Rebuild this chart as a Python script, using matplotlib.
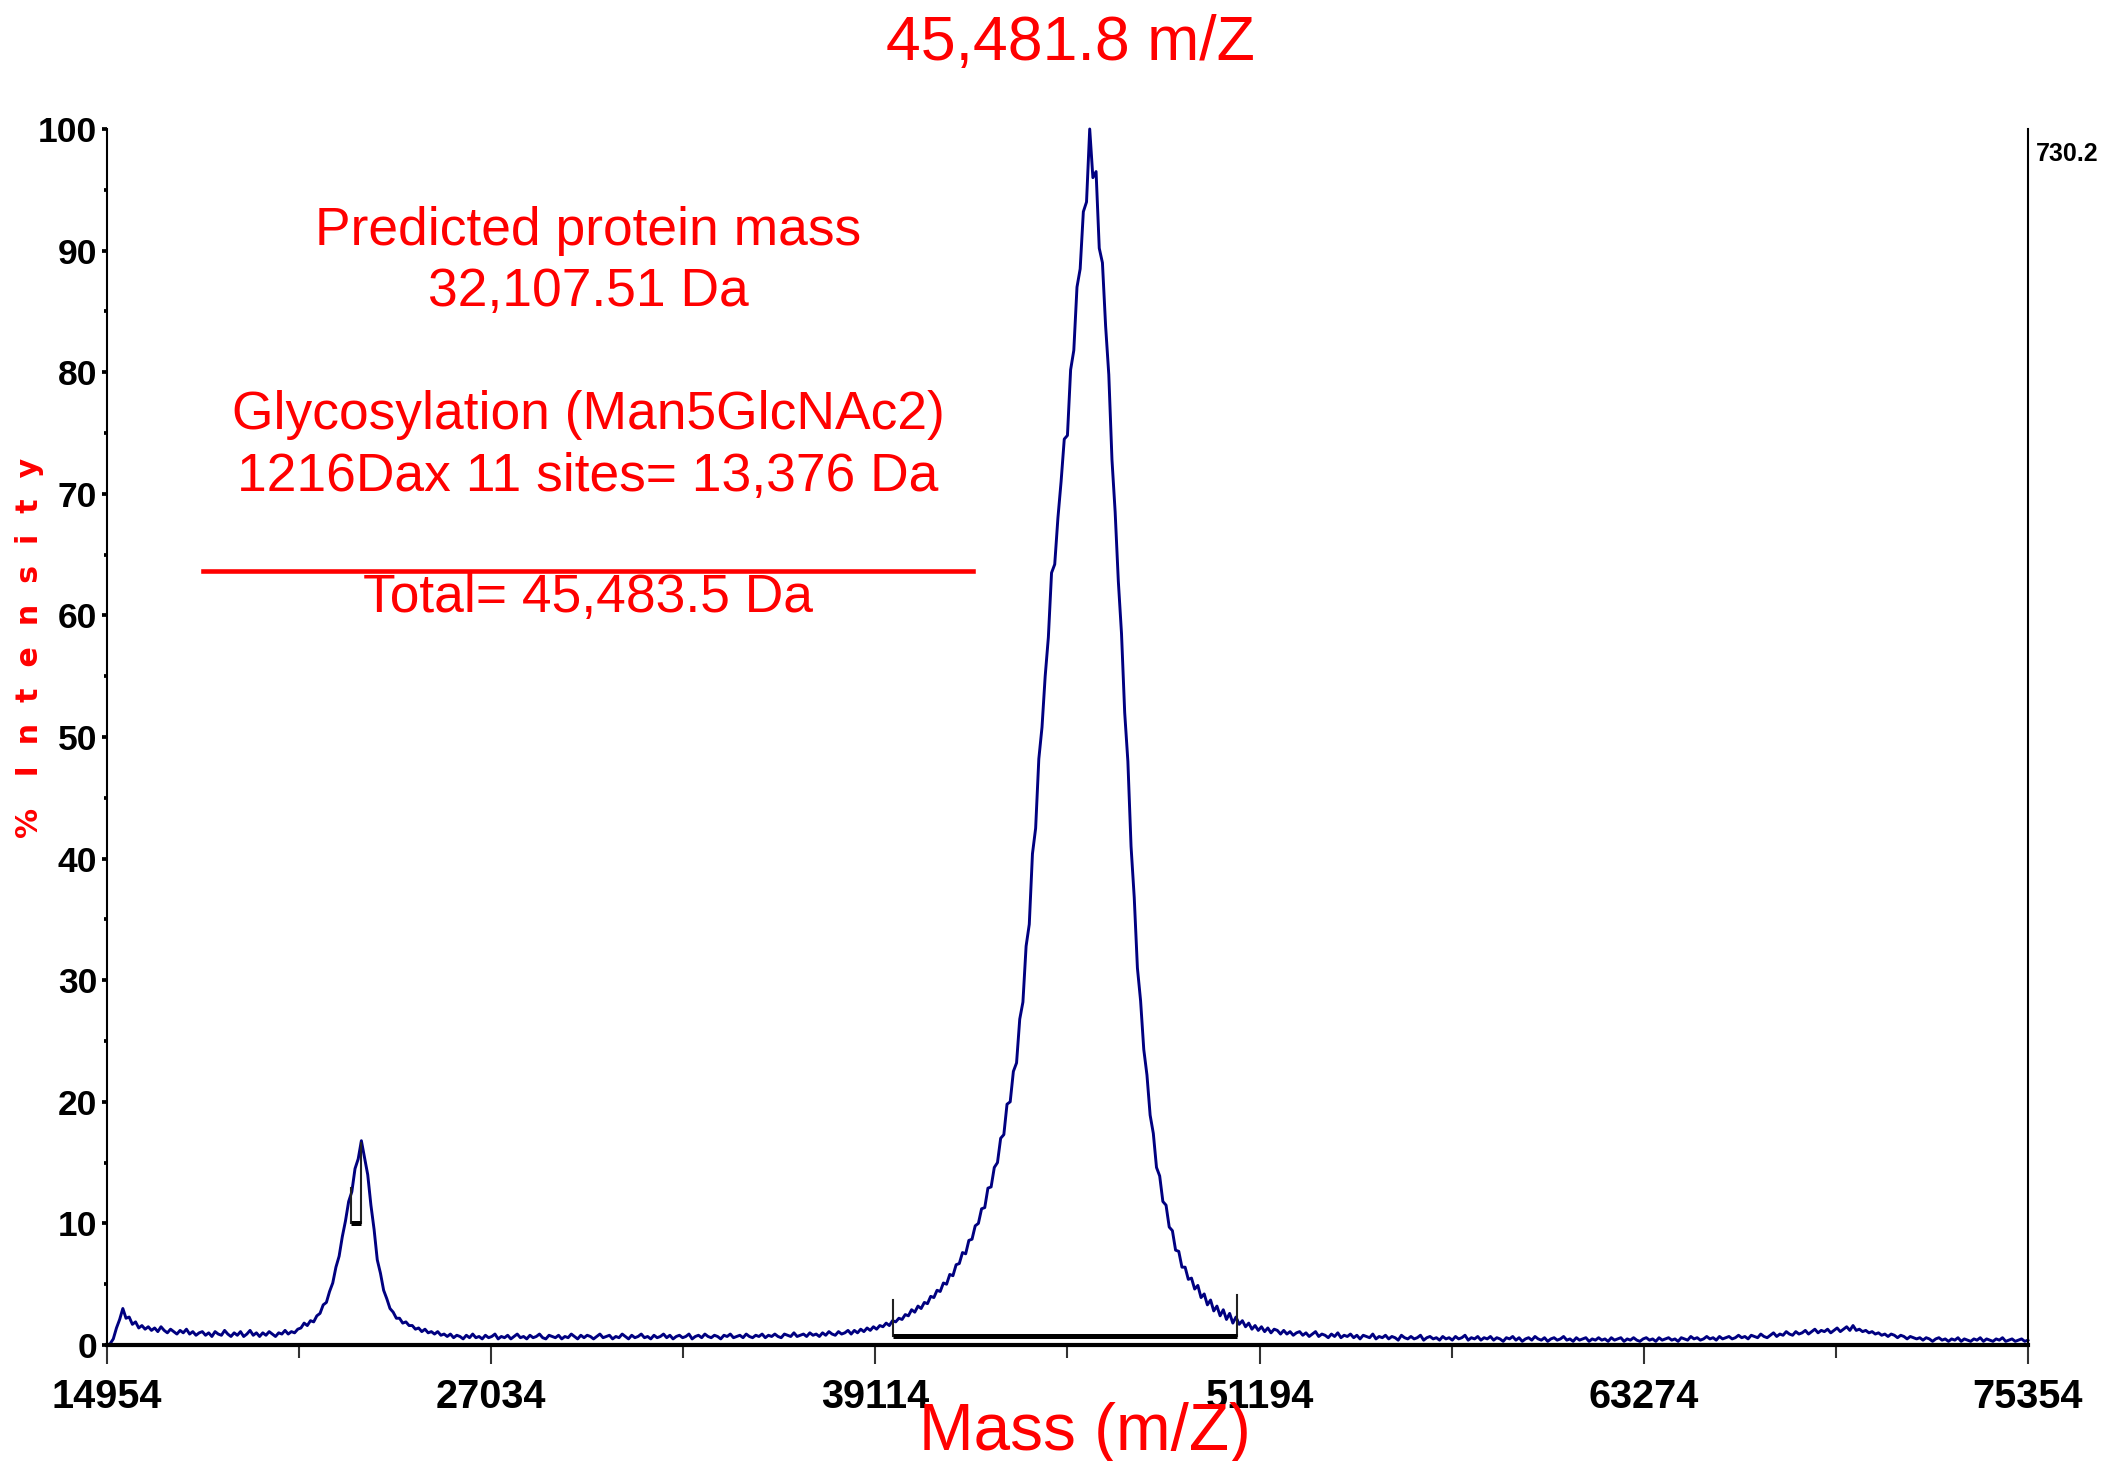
import matplotlib
matplotlib.use('Agg')
from matplotlib import pyplot as plt
from matplotlib.lines import Line2D
import numpy as np

MASS_START = 14954
MASS_STEP = 100
intensity = [
    0.0, 0.1, 0.5, 1.4, 2.1, 3.0, 2.2, 2.3, 1.7, 1.9,
    1.4, 1.6, 1.3, 1.5, 1.2, 1.4, 1.1, 1.5, 1.2, 1.0,
    1.3, 1.1, 0.9, 1.2, 1.0, 1.3, 0.9, 1.1, 0.8, 1.0,
    1.1, 0.8, 1.0, 0.7, 1.1, 0.9, 0.8, 1.2, 0.9, 0.7,
    1.0, 0.8, 1.1, 0.7, 0.9, 1.2, 0.8, 1.0, 0.7, 1.0,
    0.8, 1.1, 0.9, 0.7, 1.0, 0.9, 1.2, 0.9, 1.1, 1.0,
    1.3, 1.4, 1.8, 1.6, 2.0, 1.9, 2.4, 2.6, 3.3, 3.5,
    4.4, 5.1, 6.4, 7.3, 8.9, 10.2, 11.8, 12.6, 14.5, 15.3,
    16.8, 15.4, 14.0, 11.5, 9.5, 7.0, 5.9, 4.5, 3.8, 3.0,
    2.7, 2.2, 2.2, 1.8, 1.9, 1.6, 1.6, 1.3, 1.4, 1.1,
    1.3, 1.0, 1.1, 0.9, 1.1, 0.8, 0.9, 0.7, 0.9, 0.6,
    0.8, 0.7, 0.5, 0.8, 0.6, 0.9, 0.6, 0.7, 0.5, 0.8,
    0.6, 0.7, 0.9, 0.5, 0.7, 0.6, 0.8, 0.5, 0.7, 0.9,
    0.6, 0.7, 0.5, 0.8, 0.6, 0.7, 0.9, 0.6, 0.5, 0.8,
    0.7, 0.6, 0.8, 0.5, 0.7, 0.6, 0.9, 0.7, 0.5, 0.8,
    0.6, 0.8, 0.7, 0.5, 0.7, 0.9, 0.6, 0.7, 0.8, 0.5,
    0.7, 0.6, 0.9, 0.7, 0.5, 0.8, 0.6, 0.7, 0.9, 0.6,
    0.7, 0.5, 0.8, 0.6, 0.7, 0.9, 0.6, 0.8, 0.5, 0.7,
    0.8, 0.6, 0.7, 0.9, 0.5, 0.7, 0.8, 0.6, 0.9, 0.7,
    0.6, 0.8, 0.7, 0.5, 0.8, 0.7, 0.9, 0.6, 0.7, 0.8,
    0.6, 0.9, 0.7, 0.6, 0.8, 0.7, 0.9, 0.6, 0.8, 0.7,
    0.9, 0.7, 0.6, 0.9, 0.8, 0.7, 1.0, 0.7, 0.8, 0.9,
    0.7, 1.0, 0.8, 0.9, 0.7, 1.0, 0.8, 1.1, 0.9, 0.8,
    1.1, 0.9, 1.0, 1.2, 0.9, 1.2, 1.0, 1.3, 1.1, 1.4,
    1.2, 1.5, 1.3, 1.6, 1.5, 1.8, 1.6, 2.0, 1.9, 2.2,
    2.1, 2.5, 2.4, 2.9, 2.7, 3.2, 3.0, 3.5, 3.4, 4.0,
    3.9, 4.5, 4.4, 5.1, 5.0, 5.8, 5.7, 6.6, 6.7, 7.6,
    7.5, 8.6, 8.7, 9.8, 10.0, 11.2, 11.3, 12.9, 13.0, 14.6,
    15.0, 17.0, 17.3, 19.8, 20.0, 22.5, 23.2, 26.8, 28.2, 32.8,
    34.6, 40.4, 42.5, 48.2, 50.8, 55.0, 58.2, 63.5, 64.2, 68.0,
    71.0, 74.5, 74.8, 80.2, 81.8, 87.0, 88.5, 93.2, 94.0, 100.0,
    96.0, 96.5, 90.2, 89.0, 83.8, 79.8, 72.8, 68.5, 62.8, 58.5,
    52.0, 48.0, 41.0, 36.8, 31.0, 28.3, 24.3, 22.2, 18.9, 17.4,
    14.6, 13.9, 11.8, 11.5, 9.7, 9.4, 7.8, 7.7, 6.4, 6.4,
    5.4, 5.5, 4.6, 4.9, 3.9, 4.2, 3.3, 3.7, 2.8, 3.2,
    2.4, 2.9, 2.1, 2.6, 1.8, 2.3, 1.7, 2.0, 1.5, 1.8,
    1.3, 1.6, 1.2, 1.5, 1.1, 1.4, 1.0, 1.3, 1.2, 0.9,
    1.2, 0.9, 1.1, 0.8, 1.0, 1.1, 0.8, 1.0, 0.7, 0.9,
    1.1, 0.7, 0.9, 0.8, 0.6, 0.9, 0.7, 1.0, 0.6, 0.8,
    0.7, 0.9, 0.6, 0.8, 0.5, 0.8, 0.7, 0.6, 0.9, 0.5,
    0.7, 0.6, 0.8, 0.5, 0.7, 0.6, 0.4, 0.8, 0.6, 0.5,
    0.7, 0.5, 0.6, 0.8, 0.4, 0.6, 0.7, 0.5, 0.6, 0.4,
    0.7, 0.5, 0.6, 0.4, 0.7, 0.5, 0.6, 0.8, 0.4, 0.6,
    0.5, 0.7, 0.4, 0.6, 0.5, 0.7, 0.4, 0.6, 0.5, 0.3,
    0.6, 0.5, 0.7, 0.4, 0.6, 0.3, 0.5, 0.6, 0.4, 0.7,
    0.5, 0.4, 0.6, 0.3, 0.5, 0.6, 0.4, 0.5, 0.7, 0.4,
    0.5, 0.3, 0.6, 0.4, 0.5, 0.6, 0.3, 0.5, 0.4, 0.6,
    0.4, 0.5, 0.3, 0.6, 0.4, 0.5, 0.6, 0.3, 0.5, 0.4,
    0.6, 0.4, 0.3, 0.5, 0.6, 0.4, 0.5, 0.3, 0.6, 0.4,
    0.5, 0.6, 0.4, 0.5, 0.3, 0.6, 0.5, 0.4, 0.7, 0.5,
    0.6, 0.4, 0.5, 0.7, 0.5, 0.6, 0.4, 0.7, 0.5, 0.6,
    0.7, 0.5, 0.6, 0.8, 0.6, 0.7, 0.5, 0.8, 0.7, 0.6,
    0.9, 0.7, 0.6, 0.8, 1.0, 0.7, 0.9, 0.8, 1.1, 0.9,
    0.8, 1.1, 0.9, 1.0, 1.2, 0.9, 1.1, 1.3, 1.0, 1.2,
    1.1, 1.3, 1.0, 1.2, 1.4, 1.1, 1.3, 1.5, 1.2, 1.6,
    1.2, 1.3, 1.1, 1.2, 1.0, 1.1, 0.9, 1.0, 0.8, 0.9,
    0.7, 0.9, 0.8, 0.6, 0.8, 0.7, 0.5, 0.7, 0.6, 0.5,
    0.6, 0.4, 0.6, 0.5, 0.3, 0.5, 0.6, 0.4, 0.5, 0.3,
    0.5, 0.4, 0.6, 0.3, 0.5, 0.4, 0.3, 0.5, 0.4, 0.6,
    0.3, 0.5, 0.4, 0.3, 0.5, 0.4, 0.6, 0.3, 0.4, 0.5,
    0.3, 0.4, 0.5, 0.3, 0.4,
]
mass = MASS_START + MASS_STEP * np.arange(len(intensity))

x_major = [14954, 27034, 39114, 51194, 63274, 75354]
x_minor = [20994, 33074, 45154, 57234, 69314]
y_major = [0, 10, 20, 30, 40, 50, 60, 70, 80, 90, 100]
y_minor = [5, 15, 25, 35, 45, 55, 65, 75, 85, 95]

# peak integration brackets: x start/end, left top, bar level, right top
small_bracket_x = [22620, 22944]
small_bracket_y = [12.9, 10.0, 16.6]
main_bracket_x = [39658, 50492]
main_bracket_y = [3.7, 0.7, 4.1]

title_text = "45,481.8 m/Z"
xlabel_text = "Mass (m/Z)"
ylabel_text = "%   I  n  t  e  n  s  i  t  y"
scale_text = "730.2"
note_lines = ["Predicted protein mass", "32,107.51 Da",
              "Glycosylation (Man5GlcNAc2)", "1216Dax 11 sites= 13,376 Da",
              "Total= 45,483.5 Da"]
note_baselines = [0.8323, 0.7906, 0.7064, 0.6639, 0.5811]

arial = ['Liberation Sans', 'DejaVu Sans']

fig = plt.figure(figsize=(2105 / 300, 1461 / 300), dpi=300)
ax = fig.add_axes([0.0508, 0.0794, 0.9126, 0.8323])

ax.plot(mass, intensity, color='#000080', lw=0.7, clip_on=False, zorder=2)

# brackets
bx0, bx1 = small_bracket_x
ax.plot([bx0, bx0], [small_bracket_y[0], small_bracket_y[1]], color='#222222', lw=0.5, zorder=3)
ax.plot([bx1, bx1], [small_bracket_y[1], small_bracket_y[2]], color='#222222', lw=0.5, zorder=3)
ax.plot([bx0, bx1], [small_bracket_y[1], small_bracket_y[1]], color='black', lw=1.2, zorder=3,
        solid_capstyle='butt')
bx0, bx1 = main_bracket_x
ax.plot([bx0, bx0], [main_bracket_y[0], main_bracket_y[1]], color='#222222', lw=0.5, zorder=3)
ax.plot([bx1, bx1], [main_bracket_y[1], main_bracket_y[2]], color='#222222', lw=0.5, zorder=3)
ax.plot([bx0, bx1], [main_bracket_y[1], main_bracket_y[1]], color='black', lw=1.2, zorder=3,
        solid_capstyle='butt')

ax.set_xlim(x_major[0], x_major[-1])
ax.set_ylim(0, 100)
ax.spines['top'].set_visible(False)
ax.spines['left'].set_linewidth(0.5)
ax.spines['right'].set_linewidth(0.5)
ax.spines['bottom'].set_linewidth(1.0)

ax.set_xticks(x_major)
ax.set_xticks(x_minor, minor=True)
ax.set_yticks(y_major)
ax.set_yticks(y_minor, minor=True)
ax.tick_params(axis='x', which='major', direction='out', length=4.5, width=0.5,
               color='#333333', pad=3.4)
ax.tick_params(axis='x', which='minor', direction='out', length=3, width=0.5, color='#333333')
ax.tick_params(axis='y', which='major', direction='out', length=1.3, width=0.9, pad=1)
ax.tick_params(axis='y', which='minor', direction='out', length=0.7, width=0.9)
ax.set_xticklabels([str(v) for v in x_major], family=arial, weight='bold', fontsize=9.5)
ax.set_yticklabels([str(v) for v in y_major], family=arial, weight='bold', fontsize=8.5)

fig.text(0.9672, 0.9028, scale_text, family=arial, weight='bold', fontsize=6,
         ha='left', va='top')

fig.text(0.5083, 0.9589, title_text, color='red', family=arial, fontsize=15,
         ha='center', va='baseline')
fig.text(0.5154, 0.0075, xlabel_text, color='red', family=arial, fontsize=15.75,
         ha='center', va='baseline')
fig.text(0.0140, 0.5565, ylabel_text, color='red', family=['DejaVu Sans'], weight='bold',
         fontsize=7.2, rotation=90, ha='center', va='center')

for line, yb in zip(note_lines, note_baselines):
    fig.text(0.2793, yb, line, color='red', family=arial, fontsize=12.8,
             ha='center', va='baseline')
fig.add_artist(Line2D([0.0964, 0.4622], [0.6092, 0.6092], color='red', lw=1.1))

fig.savefig('out.png', dpi=300)
